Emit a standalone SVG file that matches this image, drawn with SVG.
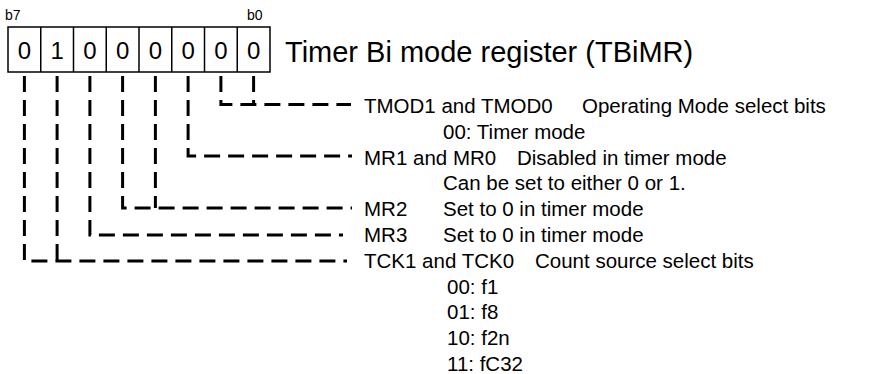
<svg xmlns="http://www.w3.org/2000/svg" width="877" height="374" viewBox="0 0 877 374">
<style>
text{font-family:"Liberation Sans",Arial,sans-serif;fill:#000}
.t{font-size:20.5px}
.d{font-size:24px;text-anchor:middle}
.s{font-size:14px}
.c{fill:none;stroke:#000;stroke-width:3;stroke-dasharray:16 8}
.b{fill:#fff;stroke:#000;stroke-width:1.5}
</style>
<rect width="877" height="374" fill="#fff"/>
<g id="register">
<text class="s" x="5" y="20">b7</text>
<text class="s" x="247" y="20">b0</text>
<rect class="b" x="8" y="27" width="262" height="45"/>
<path d="M40.75 27V72M73.5 27V72M106.25 27V72M139 27V72M171.75 27V72M204.5 27V72M237.25 27V72" stroke="#000" stroke-width="1.5"/>
<text class="d" x="24.4" y="58.5">0</text>
<text class="d" x="57.1" y="58.5">1</text>
<text class="d" x="89.9" y="58.5">0</text>
<text class="d" x="122.6" y="58.5">0</text>
<text class="d" x="155.4" y="58.5">0</text>
<text class="d" x="188.1" y="58.5">0</text>
<text class="d" x="220.9" y="58.5">0</text>
<text class="d" x="253.6" y="58.5">0</text>
<text x="285" y="62" style="font-size:29px">Timer Bi mode register (TBiMR)</text>
</g>
<g id="connectors">
<path class="c" d="M253.6 76V104.5"/>
<path class="c" d="M220.9 76V104.5H351"/>
<path class="c" d="M188.1 76V156H352"/>
<path class="c" d="M155.4 76V208"/>
<path class="c" d="M122.6 76V208H352"/>
<path class="c" d="M89.9 76V235H343"/>
<path class="c" d="M57.1 76V261"/>
<path class="c" d="M24.4 76V261H347"/>
</g>
<g id="tmod">
<text class="t" x="364" y="113">TMOD1 and TMOD0</text>
<text class="t" x="582" y="113">Operating Mode select bits</text>
<text class="t" x="443" y="138.8">00: Timer mode</text>
</g>
<g id="mr10">
<text class="t" x="364" y="164.6">MR1 and MR0</text>
<text class="t" x="517" y="164.6">Disabled in timer mode</text>
<text class="t" x="443" y="190.4">Can be set to either 0 or 1.</text>
</g>
<g id="mr2">
<text class="t" x="364" y="216.2">MR2</text>
<text class="t" x="443" y="216.2">Set to 0 in timer mode</text>
</g>
<g id="mr3">
<text class="t" x="364" y="242">MR3</text>
<text class="t" x="443" y="242">Set to 0 in timer mode</text>
</g>
<g id="tck">
<text class="t" x="364" y="267.8">TCK1 and TCK0</text>
<text class="t" x="535" y="267.8">Count source select bits</text>
<text class="t" x="447" y="293.6">00: f1</text>
<text class="t" x="447" y="319.4">01: f8</text>
<text class="t" x="447" y="345.2">10: f2n</text>
<text class="t" x="447" y="371">11: fC32</text>
</g>
</svg>
